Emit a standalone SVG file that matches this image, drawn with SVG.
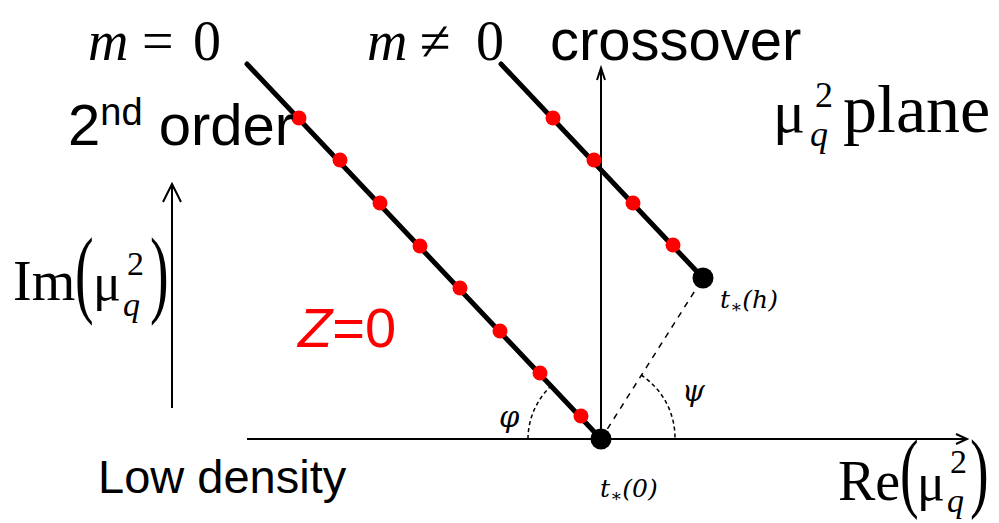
<svg xmlns="http://www.w3.org/2000/svg" width="999" height="523" viewBox="0 0 999 523">
<style>
.serif{font-family:"Liberation Serif","Times New Roman",serif;fill:#000}
.sans{font-family:"Liberation Sans",Arial,sans-serif;fill:#000}
.it{font-style:italic}
.thick{stroke:#000;stroke-width:5;stroke-linecap:round;fill:none}
.axis{stroke:#000;stroke-width:2;fill:none}
.dash{stroke:#000;stroke-width:1.5;stroke-dasharray:6 6;fill:none}
.arc{stroke:#000;stroke-width:1.5;stroke-dasharray:4 3;fill:none}
.zero{fill:#ff0000}
.small{font-family:"DejaVu Serif","Liberation Serif",serif;font-style:italic;font-size:25px;fill:#000}
.greek{font-family:"DejaVu Serif","Liberation Serif",serif;font-style:italic;font-size:29px;fill:#000}
</style>
<rect width="999" height="523" fill="#fff"/>
<g id="axes">
<line class="axis" x1="247" y1="439" x2="966" y2="439"/>
<polyline class="axis" points="956,434 967,439 956,444" stroke-width="1.5"/>
<line class="axis" x1="601" y1="439" x2="601" y2="70"/>
<polyline class="axis" points="597,80 601,68 605,80" stroke-width="1.5"/>
<line class="axis" x1="172" y1="408" x2="172" y2="184"/>
<polyline class="axis" points="163,202 172,184 181,202"/>
</g>
<g id="lines">
<line class="thick" x1="247" y1="64" x2="601" y2="439"/>
<line class="thick" x1="501" y1="64" x2="703" y2="278"/>
<line class="dash" x1="601" y1="439" x2="703" y2="278"/>
<path class="arc" d="M528,439 A73,73 0 0,1 551,386"/>
<path class="arc" d="M641,375 A75,75 0 0,1 675,439"/>
</g>
<g id="zeros">
<circle class="zero" cx="299" cy="118" r="7.5"/>
<circle class="zero" cx="340" cy="160" r="7.5"/>
<circle class="zero" cx="380" cy="203" r="7.5"/>
<circle class="zero" cx="420" cy="246" r="7.5"/>
<circle class="zero" cx="460" cy="288" r="7.5"/>
<circle class="zero" cx="500" cy="331" r="7.5"/>
<circle class="zero" cx="540" cy="373" r="7.5"/>
<circle class="zero" cx="581" cy="416" r="7.5"/>
<circle class="zero" cx="553" cy="118" r="7.5"/>
<circle class="zero" cx="594" cy="160" r="7.5"/>
<circle class="zero" cx="633" cy="203" r="7.5"/>
<circle class="zero" cx="673" cy="245" r="7.5"/>
</g>
<g id="t0">
<circle cx="601" cy="439" r="10.5" fill="#000"/>
<text class="small" x="600" y="497">t<tspan font-size="18" dy="5">∗</tspan><tspan dy="-5">(0)</tspan></text>
</g>
<g id="th">
<circle cx="703" cy="278" r="10.5" fill="#000"/>
<text class="small" x="720" y="308">t<tspan font-size="18" dy="5">∗</tspan><tspan dy="-5">(h)</tspan></text>
</g>
<text class="greek" x="499" y="427">φ</text>
<text class="greek" x="682" y="401">ψ</text>
<g id="labels">
<text class="serif" font-size="56" y="60"><tspan class="it" x="88">m</tspan><tspan x="142">=</tspan><tspan x="193">0</tspan></text>
<text class="serif" font-size="56" y="60"><tspan class="it" x="367">m</tspan><tspan x="420">≠</tspan><tspan x="476">0</tspan></text>
<text class="sans" font-size="58" x="550" y="60">crossover</text>
<text class="sans" font-size="58" x="68" y="145">2<tspan font-size="38" dy="-20">nd</tspan><tspan dy="20"> order</tspan></text>
<text class="sans" font-size="47" x="98" y="493">Low density</text>
<text class="sans zero" font-size="56" x="298" y="347"><tspan class="it">Z</tspan>=0</text>
</g>
<g id="plane">
<text class="serif" font-size="60" x="773" y="132">μ</text>
<text class="serif" font-size="36" x="815" y="107">2</text>
<text class="serif it" font-size="36" x="810" y="146">q</text>
<text class="serif" font-size="68" x="843" y="132">plane</text>
</g>
<g id="imlabel">
<text class="serif" font-size="56" x="13" y="300">Im</text>
<text class="serif" font-size="56" transform="translate(75,305) scale(1,1.75)">(</text>
<text class="serif" font-size="52" x="93" y="300">μ</text>
<text class="serif" font-size="34" x="127" y="275">2</text>
<text class="serif it" font-size="34" x="123" y="316">q</text>
<text class="serif" font-size="56" transform="translate(150,305) scale(1,1.75)">)</text>
</g>
<g id="relabel">
<text class="serif" font-size="56" x="838" y="500">Re</text>
<text class="serif" font-size="56" transform="translate(900,501) scale(1,1.6)">(</text>
<text class="serif" font-size="52" x="917" y="500">μ</text>
<text class="serif" font-size="34" x="950" y="473">2</text>
<text class="serif it" font-size="34" x="947" y="512">q</text>
<text class="serif" font-size="56" transform="translate(970,501) scale(1,1.6)">)</text>
</g>
</svg>
